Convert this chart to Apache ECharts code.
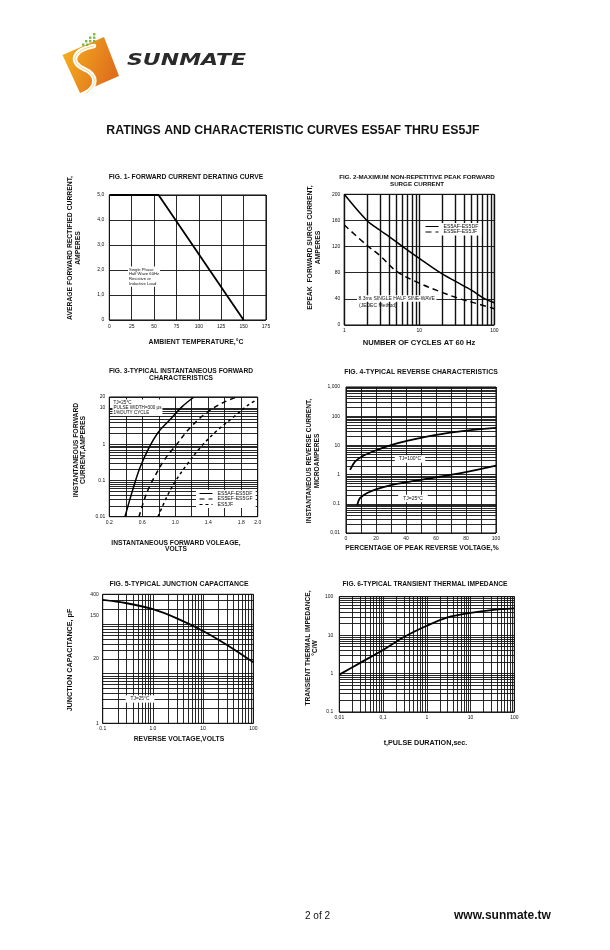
<!DOCTYPE html>
<html><head><meta charset="utf-8">
<script src="https://cdn.jsdelivr.net/npm/echarts@6/dist/echarts.min.js"></script>
<style>html,body{margin:0;padding:0;background:#fff}#c{width:610px;height:950px}</style>
</head><body><div id="c"></div>
<script>
// ---------------- DATA ----------------
// Fig.1 forward current derating
const fig1Temp = [0, 55, 150];
const fig1Current = [5.0, 5.0, 0];
const fig1XLabelVals = [0, 25, 50, 75, 100, 125, 150, 175];
const fig1XLabels = ['0', '25', '50', '75', '100', '125', '150', '175'];
const fig1YLabelVals = [0, 1, 2, 3, 4, 5];
const fig1YLabels = ['0', '1,0', '2,0', '3,0', '4,0', '5,0'];

// Fig.2 surge current
const fig2CyclesA = [1, 2, 3, 4, 6, 10, 19, 30, 50, 75, 100];
const fig2SurgeA = [200, 160, 145, 135, 120, 102, 80, 67, 53, 40, 34];
const fig2CyclesE = [1, 2, 3, 5, 10, 20, 35, 50, 100];
const fig2SurgeE = [153, 122, 106, 82, 64, 50, 40, 35, 25];
const fig2XLabelVals = [1, 10, 100];
const fig2XLabels = ['1', '10', '100'];
const fig2YLabelVals = [0, 40, 80, 120, 160, 200];
const fig2YLabels = ['0', '40', '80', '120', '160', '200'];

// Fig.3 forward characteristics
const fig3VoltA = [0.39, 0.43, 0.49, 0.57, 0.67, 0.79, 0.94, 1.08, 1.22];
const fig3CurrA = [0.01, 0.021, 0.061, 0.22, 0.71, 2.07, 4.84, 10.7, 19.4];
const fig3VoltE = [0.56, 0.645, 0.73, 0.875, 1.0, 1.18, 1.38, 1.58, 1.73];
const fig3CurrE = [0.01, 0.04, 0.105, 0.39, 0.88, 2.84, 7.4, 14, 19.4];
const fig3VoltJ = [0.79, 0.9, 1.0, 1.14, 1.3, 1.5, 1.7, 1.87, 2.0];
const fig3CurrJ = [0.01, 0.036, 0.094, 0.27, 0.79, 2.3, 5.4, 11.4, 17.4];
const fig3XLabelVals = [0.2, 0.6, 1.0, 1.4, 1.8, 2.0];
const fig3XLabels = ['0.2', '0.6', '1.0', '1.4', '1.8', '2.0'];
const fig3YLabelVals = [0.01, 0.1, 1, 10, 20];
const fig3YLabels = ['0.01', '0.1', '1', '10', '20'];

// Fig.4 reverse characteristics
const fig4Pct100 = [2.7, 6, 10.4, 20.4, 30, 40, 59, 79, 100];
const fig4Cur100 = [1.44, 2.77, 4.1, 6.9, 10.3, 14, 22.5, 31.6, 40];
const fig4Pct25 = [7.5, 9.3, 13.8, 20.4, 30, 40, 59, 79, 100];
const fig4Cur25 = [0.092, 0.156, 0.23, 0.32, 0.44, 0.55, 0.79, 1.2, 2.03];
const fig4XLabelVals = [0, 20, 40, 60, 80, 100];
const fig4XLabels = ['0', '20', '40', '60', '80', '100'];
const fig4YLabelVals = [0.01, 0.1, 1, 10, 100, 1000];
const fig4YLabels = ['0,01', '0.1', '1', '10', '100', '1,000'];

// Fig.5 junction capacitance
const fig5Volt = [0.1, 0.3, 1, 3, 10, 30, 100];
const fig5Cap = [308, 264, 200, 131, 73, 38, 17];
const fig5XLabelVals = [0.1, 1, 10, 100];
const fig5XLabels = ['0.1', '1.0', '10', '100'];
const fig5YLabelVals = [1, 20, 150, 400];
const fig5YLabels = ['1', '20', '150', '400'];

// Fig.6 transient thermal impedance
const fig6Time = [0.01, 0.03, 0.1, 0.3, 1, 3, 10, 30, 100];
const fig6Imp = [0.94, 1.9, 4.1, 8.9, 17.5, 29, 38, 45, 49.6];
const fig6XLabelVals = [0.01, 0.1, 1, 10, 100];
const fig6XLabels = ['0,01', '0,1', '1', '10', '100'];
const fig6YLabelVals = [0.1, 1, 10, 100];
const fig6YLabels = ['0.1', '1', '10', '100'];

// ---------------- HELPERS ----------------
const FONT = '"Liberation Sans", Arial, Helvetica, sans-serif';
const zip = (xs, ys) => xs.map((x, i) => [x, ys[i]]);
function logGrid(min, max) {
  const out = [];
  for (let e = Math.floor(Math.log10(min)) ; e <= Math.ceil(Math.log10(max)); e++) {
    for (let m = 1; m <= 9; m++) {
      const v = +(m * Math.pow(10, e)).toPrecision(6);
      if (v >= min * 0.9999 && v <= max * 1.0001) out.push(v);
    }
  }
  return out;
}
function fmtFrom(vals, texts) {
  return function (v) {
    for (let i = 0; i < vals.length; i++) {
      if (Math.abs(v - vals[i]) <= Math.abs(vals[i]) * 1e-4 + 1e-9) return texts[i];
    }
    return '';
  };
}
function mkAxis(g, type, min, max, o) {
  o = o || {};
  const ax = {
    type: type, gridIndex: g, min: min, max: max,
    axisLine: { show: false },
    axisTick: { show: false },
    minorTick: { show: false }, minorSplitLine: { show: false },
    splitLine: { show: true, lineStyle: { color: '#111', width: o.gw || 0.9 } },
    axisLabel: {
      fontSize: 5, fontFamily: FONT, color: '#111', margin: o.margin || 3,
      hideOverlap: false,
      customValues: o.labelVals,
      formatter: fmtFrom(o.labelVals, o.labelTexts)
    }
  };
  if (type === 'log') ax.logBase = 10;
  if (o.interval) ax.interval = o.interval;
  if (o.gridVals) ax.axisTick.customValues = o.gridVals;
  return ax;
}
function line(i, name, xs, ys, o) {
  o = o || {};
  return {
    type: 'line', name: name, xAxisIndex: i, yAxisIndex: i,
    data: zip(xs, ys), symbol: 'none', showSymbol: false,
    smooth: o.smooth === undefined ? 0.35 : o.smooth,
    silent: true, z: 5,
    lineStyle: { color: '#000', width: o.w || 1.6, type: o.type || 'solid' },
    itemStyle: { color: '#000' }
  };
}
function T(x, y, text, size, o) {
  o = o || {};
  const st = {
    text: text, fill: o.color || '#111',
    fontSize: size, fontWeight: o.weight || 'bold', fontFamily: o.family || FONT,
    fontStyle: o.style || 'normal',
    align: o.align || 'center', verticalAlign: o.va || 'middle',
    lineHeight: o.lh || Math.round(size * 1.1 * 10) / 10
  };
  if (o.bg) { st.backgroundColor = o.bg; st.padding = o.pad || [1, 2]; }
  return { type: 'text', x: x, y: y, rotation: o.rot || 0, scaleX: o.sx || 1, z: 100, silent: true, style: st };
}
const R90 = Math.PI / 2;

// ---------------- CHART ----------------
const chart = echarts.init(document.getElementById('c'), null, { renderer: 'canvas' });

const gridBase = { show: true, borderColor: '#000', borderWidth: 1, backgroundColor: 'transparent', containLabel: false };
const grids = [
  { left: 109.3, top: 195, width: 156.7, height: 125 },
  { left: 344.3, top: 194.3, width: 150, height: 130.7 },
  { left: 109.3, top: 397, width: 148.4, height: 119.7 },
  { left: 346, top: 387, width: 150, height: 146 },
  { left: 102.7, top: 594.3, width: 150.6, height: 129 },
  { left: 339.3, top: 596.7, width: 175, height: 115.3 }
].map(g => Object.assign({}, gridBase, g));

const xAxes = [
  mkAxis(0, 'value', 0, 175, { interval: 25, labelVals: fig1XLabelVals, labelTexts: fig1XLabels, margin: 4 }),
  mkAxis(1, 'log', 1, 100, { gridVals: logGrid(1, 100), labelVals: fig2XLabelVals, labelTexts: fig2XLabels, gw: 1.4 }),
  mkAxis(2, 'value', 0.2, 2.0, { interval: 0.2, labelVals: fig3XLabelVals, labelTexts: fig3XLabels, margin: 3 }),
  mkAxis(3, 'value', 0, 100, { interval: 10, labelVals: fig4XLabelVals, labelTexts: fig4XLabels, margin: 3 }),
  mkAxis(4, 'log', 0.1, 100, { gridVals: logGrid(0.1, 100), labelVals: fig5XLabelVals, labelTexts: fig5XLabels, margin: 3 }),
  mkAxis(5, 'log', 0.01, 100, { gridVals: logGrid(0.01, 100), labelVals: fig6XLabelVals, labelTexts: fig6XLabels, margin: 3 })
];
const yAxes = [
  mkAxis(0, 'value', 0, 5, { interval: 1, labelVals: fig1YLabelVals, labelTexts: fig1YLabels, margin: 5 }),
  mkAxis(1, 'value', 0, 200, { interval: 40, labelVals: fig2YLabelVals, labelTexts: fig2YLabels, margin: 4 }),
  mkAxis(2, 'log', 0.01, 20, { gridVals: logGrid(0.01, 20), labelVals: fig3YLabelVals, labelTexts: fig3YLabels, margin: 4 }),
  mkAxis(3, 'log', 0.01, 1000, { gridVals: logGrid(0.01, 1000), labelVals: fig4YLabelVals, labelTexts: fig4YLabels, margin: 6 }),
  mkAxis(4, 'log', 1, 400, { gridVals: logGrid(1, 400), labelVals: fig5YLabelVals, labelTexts: fig5YLabels, margin: 4 }),
  mkAxis(5, 'log', 0.1, 100, { gridVals: logGrid(0.1, 100), labelVals: fig6YLabelVals, labelTexts: fig6YLabels, margin: 6 })
];

const series = [
  line(0, 'derating', fig1Temp, fig1Current, { smooth: false, w: 1.8 }),
  line(1, 'ES5AF-ES5DF', fig2CyclesA, fig2SurgeA, { w: 1.5 }),
  line(1, 'ES5EF-ES5JF', fig2CyclesE, fig2SurgeE, { w: 1.5, type: [6, 4] }),
  line(2, 'ES5AF-ES5DF', fig3VoltA, fig3CurrA, { w: 1.5 }),
  line(2, 'ES5EF-ES5GF', fig3VoltE, fig3CurrE, { w: 1.5, type: [5, 4] }),
  line(2, 'ES5JF', fig3VoltJ, fig3CurrJ, { w: 1.5, type: [3, 3] }),
  line(3, 'TJ=100°C', fig4Pct100, fig4Cur100, { w: 1.8 }),
  line(3, 'TJ=25°C', fig4Pct25, fig4Cur25, { w: 1.8 }),
  line(4, 'capacitance', fig5Volt, fig5Cap, { w: 1.8 }),
  line(5, 'impedance', fig6Time, fig6Imp, { w: 1.8 })
];

const legendBase = {
  orient: 'vertical', itemWidth: 13, itemHeight: 5, itemGap: 0.5,
  backgroundColor: '#fff', padding: [1, 3], selectedMode: false,
  itemStyle: { opacity: 0 },
  lineStyle: { width: 1 },
  textStyle: { fontSize: 5.2, fontFamily: FONT, color: '#111' }
};
const legends = [
  Object.assign({}, legendBase, { data: ['ES5AF-ES5DF', 'ES5EF-ES5JF'], left: 422, top: 223 }),
  Object.assign({}, legendBase, { data: ['ES5AF-ES5DF', 'ES5EF-ES5GF', 'ES5JF'], left: 196, top: 490 })
];

// Logo
const sCurve1 = { x1: 94, y1: 46, cpx1: 73, cpy1: 50, cpx2: 69, cpy2: 62, x2: 84, y2: 69 };
const sCurve2 = { x1: 84, y1: 69, cpx1: 98, cpy1: 75, cpx2: 97, cpy2: 86, x2: 86, y2: 93 };
const logo = [
  { type: 'polygon', z: 100, silent: true,
    shape: { points: [[62.5, 55], [104, 37], [119, 76], [80, 93]] },
    style: { fill: { type: 'linear', x: 0, y: 0, x2: 1, y2: 0.4,
      colorStops: [{ offset: 0, color: '#f5b420' }, { offset: 1, color: '#e0701c' }] } } }
];
[sCurve1, sCurve2].forEach(c => {
  logo.push({ type: 'bezierCurve', z: 101, silent: true, shape: c, style: { stroke: '#fff', lineWidth: 4.5, fill: null, lineCap: 'round' } });
  logo.push({ type: 'bezierCurve', z: 102, silent: true, shape: c, style: { stroke: '#f7d27a', lineWidth: 1, fill: null, lineCap: 'round' } });
});
const dotPos = [[93, 33], [89, 36.5], [93, 36.5], [85, 40], [89, 40], [93, 40], [82, 43.5], [86, 43.5]];
dotPos.forEach(p => logo.push({ type: 'rect', z: 103, silent: true, shape: { x: p[0], y: p[1], width: 2.4, height: 2.4 }, style: { fill: '#7dba3c' } }));
logo.push(T(127, 61, 'SUNMATE', 15.5, { align: 'left', style: 'italic', weight: 900, family: '"DejaVu Sans", sans-serif', color: '#2a2a2a', sx: 1.42 }));

const texts = [
  T(293, 130.5, 'RATINGS AND CHARACTERISTIC CURVES ES5AF THRU ES5JF', 12.3),
  // Fig 1
  T(186, 177.5, 'FIG. 1- FORWARD CURRENT DERATING CURVE', 6.75),
  T(74, 248, 'AVERAGE FORWARD RECTIFIED CURRENT,\nAMPERES', 6.8, { rot: R90, lh: 7.4 }),
  T(196, 342.5, 'AMBIENT TEMPERATURE,°C', 6.9),
  T(128, 266.5, 'Single Phase\nHalf Wave 60Hz\nResistive or\nInductive Load', 4.2, { align: 'left', va: 'top', weight: 'normal', bg: '#fff', pad: [0.5, 1], lh: 4.8 }),
  // Fig 2
  T(417, 181, 'FIG. 2-MAXIMUM NON-REPETITIVE PEAK FORWARD\nSURGE CURRENT', 6.2, { lh: 6.6 }),
  T(314, 247.5, 'EPEAK  FORWARD SURGE CURRENT,\nAMPERES', 6.8, { rot: R90, lh: 7.4 }),
  T(419, 342.5, 'NUMBER OF CYCLES AT 60 Hz', 7.6),
  T(357, 298.5, '8.3ms SINGLE HALF SINE-WAVE', 5, { align: 'left', weight: 'normal', bg: '#fff', pad: [0.5, 1.5] }),
  T(359, 305.5, '(JEDEC Method)', 5, { align: 'left', weight: 'normal' }),
  // Fig 3
  T(181, 374.5, 'FIG. 3-TYPICAL INSTANTANEOUS FORWARD\nCHARACTERISTICS', 6.7, { lh: 7 }),
  T(80, 450, 'INSTANTANEOUS FORWARD\nCURRENT,AMPERES', 6.8, { rot: R90, lh: 7.2 }),
  T(176, 546, 'INSTANTANEOUS FORWARD VOLEAGE,\nVOLTS', 6.7, { lh: 6.5 }),
  T(112.5, 399.5, 'TJ=25°C\nPULSE WIDTH=300 μs\n1%DUTY CYCLE', 4.6, { align: 'left', va: 'top', weight: 'normal', bg: '#fff', pad: [0.5, 1], lh: 5.2 }),
  // Fig 4
  T(421, 372, 'FIG. 4-TYPICAL REVERSE CHARACTERISTICS', 6.9),
  T(313, 461, 'INSTANTANEOUS REVERSE CURRENT,\nMICROAMPERES', 6.6, { rot: R90, lh: 7.4 }),
  T(422, 548, 'PERCENTAGE OF PEAK REVERSE VOLTAGE,%', 6.74),
  T(410, 459, 'TJ=100°C', 5, { weight: 'normal', bg: '#fff', pad: [1, 4] }),
  T(413, 498.5, 'TJ=25°C', 5, { weight: 'normal', bg: '#fff', pad: [1, 5] }),
  // Fig 5
  T(179, 584, 'FIG. 5-TYPICAL JUNCTION CAPACITANCE', 6.9),
  T(70.5, 660, 'JUNCTION CAPACITANCE, pF', 7.2, { rot: R90 }),
  T(179, 739, 'REVERSE VOLTAGE,VOLTS', 6.84),
  T(140, 699, 'TJ=25°C', 4.8, { weight: 'normal', bg: '#fff', pad: [1, 5] }),
  // Fig 6
  T(425, 584, 'FIG. 6-TYPICAL TRANSIENT THERMAL IMPEDANCE', 6.65),
  T(312, 648, 'TRANSIENT THERMAL IMPEDANCE,\n°C/W', 6.6, { rot: R90, lh: 7 }),
  T(425.5, 743, 't,PULSE DURATION,sec.', 7.2),
  // footer
  T(305, 916, '2 of 2', 10, { align: 'left', weight: 'normal' }),
  T(454, 916, 'www.sunmate.tw', 12, { align: 'left' })
];

chart.setOption({
  animation: false,
  backgroundColor: '#fff',
  textStyle: { fontFamily: FONT },
  grid: grids,
  xAxis: xAxes,
  yAxis: yAxes,
  legend: legends,
  series: series,
  graphic: { elements: logo.concat(texts) }
});
</script>
</body></html>
